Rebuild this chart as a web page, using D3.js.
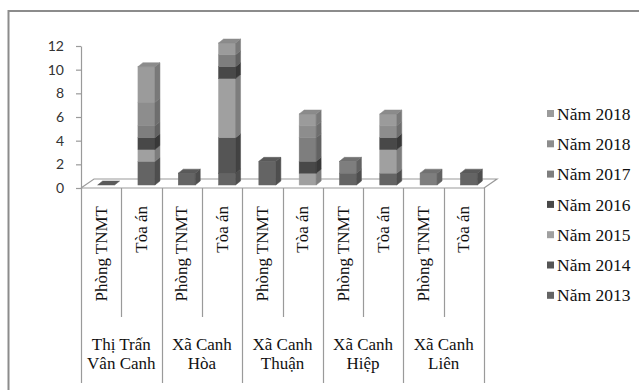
<!DOCTYPE html>
<html>
<head>
<meta charset="utf-8">
<script src="https://cdn.jsdelivr.net/npm/d3@7"></script>
<style>
  html, body { margin: 0; padding: 0; background: #fff; }
  svg { display: block; }
</style>
</head>
<body>
<svg id="chart" width="639" height="390"></svg>
<script>
// Communes (two-line labels) and the two agencies counted in each
const groupLines = [["Thị Trấn", "Vân Canh"], ["Xã Canh", "Hòa"], ["Xã Canh", "Thuận"], ["Xã Canh", "Hiệp"], ["Xã Canh", "Liên"]];
const agencies = ["Phòng TNMT", "Tòa án"];

// Stack order, bottom to top
const seriesNames = ["Năm 2013", "Năm 2014", "Năm 2015", "Năm 2016", "Năm 2017", "Năm 2018", "Năm 2018"];
const seriesColors = ["#646464", "#555555", "#a0a0a0", "#484848", "#7e7e7e", "#8d8d8d", "#9b9b9b"];

// One value per bar: [Thị Trấn TNMT, Thị Trấn Tòa án, Hòa TNMT, Hòa Tòa án, ...]
const v2013  = [0, 2, 1, 1, 2, 0, 1, 1, 0, 1];
const v2014  = [0, 0, 0, 3, 0, 0, 0, 0, 0, 0];
const v2015  = [0, 1, 0, 5, 0, 1, 0, 2, 0, 0];
const v2016  = [0, 1, 0, 1, 0, 1, 0, 1, 0, 0];
const v2017  = [0, 1, 0, 1, 0, 2, 1, 0, 1, 0];
const v2018b = [0, 2, 0, 0, 0, 1, 0, 1, 0, 0];
const v2018a = [0, 3, 0, 1, 0, 1, 0, 1, 0, 0];
const seriesValues = [v2013, v2014, v2015, v2016, v2017, v2018b, v2018a];

const yTicks = [0, 2, 4, 6, 8, 10, 12];

const svg = d3.select("#chart");

// outer frame
svg.append("rect")
  .attr("x", 8.5).attr("y", 11).attr("width", 700).attr("height", 420)
  .attr("fill", "none").attr("stroke", "#8c8c8c").attr("stroke-width", 2);

const barKeys = [];
groupLines.forEach((g, gi) => agencies.forEach((a, ai) => barKeys.push(gi * 2 + ai)));

const x = d3.scaleBand().domain(barKeys).range([81, 484]).padding(0);
const y = d3.scaleLinear().domain([0, 12]).range([188, 46]);

// 3D geometry
const floorDX = 13, floorDY = -9;
const depthDX = 5, depthDY = -4;
const barW = 17, barShiftX = 5, barShiftY = -3;

const axisColor = "#9a9a9a";

// floor parallelogram
const x0 = x.range()[0], x1 = x.range()[1], y0 = y(0);
svg.append("path")
  .attr("d", `M${x0},${y0} L${x0 + floorDX},${y0 + floorDY} L${x1 + floorDX},${y0 + floorDY} L${x1},${y0}`)
  .attr("fill", "none").attr("stroke", axisColor).attr("stroke-width", 1.2);

// y axis
const yAxis = svg.append("g")
  .attr("transform", `translate(${x0},0)`)
  .call(d3.axisLeft(y).tickValues(yTicks).tickSize(5).tickPadding(12).tickSizeOuter(0));
yAxis.select(".domain").attr("stroke", axisColor).attr("stroke-width", 1.2);
yAxis.selectAll(".tick line").attr("stroke", axisColor).attr("stroke-width", 1.2);
yAxis.selectAll(".tick text")
  .attr("font-family", "Lato, 'Open Sans', sans-serif")
  .attr("font-size", 14).attr("fill", "#333");

// x axis baseline
svg.append("line")
  .attr("x1", x0).attr("x2", x1).attr("y1", y0).attr("y2", y0)
  .attr("stroke", axisColor).attr("stroke-width", 1.2);

// category separators: short ones between agencies, long ones between communes
barKeys.forEach(k => {
  const xl = Math.round(x(k)) + 0.5;
  const long = k % 2 === 0;
  svg.append("line")
    .attr("x1", xl).attr("x2", xl).attr("y1", y0).attr("y2", long ? 383 : 317)
    .attr("stroke", axisColor).attr("stroke-width", 1.2);
});
svg.append("line")
  .attr("x1", Math.round(x1) + 0.5).attr("x2", Math.round(x1) + 0.5).attr("y1", y0).attr("y2", 383)
  .attr("stroke", axisColor).attr("stroke-width", 1.2);

// agency labels (rotated)
barKeys.forEach(k => {
  const cx = x(k) + x.bandwidth() / 2;
  svg.append("text")
    .attr("transform", `translate(${cx},206) rotate(-90)`)
    .attr("text-anchor", "end").attr("dy", "0.33em")
    .attr("font-family", "'Liberation Serif', 'Times New Roman', serif")
    .attr("font-size", 17).attr("fill", "#111")
    .text(agencies[k % 2]);
});

// commune labels
groupLines.forEach((lines, gi) => {
  const cx = x(gi * 2) + x.bandwidth();
  lines.forEach((ln, li) => {
    svg.append("text")
      .attr("x", cx).attr("y", 349.5 + li * 19.5)
      .attr("text-anchor", "middle")
      .attr("font-family", "'Liberation Serif', 'Times New Roman', serif")
      .attr("font-size", 17).attr("fill", "#111")
      .text(ln);
  });
});

// stacked 3D columns
const shade = (c, k) => d3.color(c).darker(k).formatHex();
const bars = svg.append("g");
barKeys.forEach(k => {
  const left = x(k) + x.bandwidth() / 2 + barShiftX - barW / 2;
  let acc = 0;
  let topColor = seriesColors[0];
  seriesValues.forEach((vals, si) => {
    const v = vals[k];
    if (!v) return;
    const yb = y(acc) + barShiftY, yt = y(acc + v) + barShiftY;
    const col = seriesColors[si];
    const side = shade(col, 0.7);
    bars.append("rect")
      .attr("x", left).attr("y", yt).attr("width", barW).attr("height", yb - yt)
      .attr("fill", col).attr("stroke", col).attr("stroke-width", 0.5);
    bars.append("path")
      .attr("d", `M${left + barW},${yb} L${left + barW + depthDX},${yb + depthDY} L${left + barW + depthDX},${yt + depthDY} L${left + barW},${yt} Z`)
      .attr("fill", side).attr("stroke", side).attr("stroke-width", 0.5);
    acc += v;
    topColor = col;
  });
  const yt = y(acc) + barShiftY;
  const topFill = shade(topColor, 0.3);
  bars.append("path")
    .attr("d", `M${left},${yt} L${left + depthDX},${yt + depthDY} L${left + barW + depthDX},${yt + depthDY} L${left + barW},${yt} Z`)
    .attr("fill", topFill).attr("stroke", topFill).attr("stroke-width", 0.5);
});

// legend, top entry first
const legend = svg.append("g");
const order = d3.range(seriesNames.length).reverse();
order.forEach((si, i) => {
  const cy = 113.5 + i * 30.3;
  legend.append("rect")
    .attr("x", 547).attr("y", cy - 3.5).attr("width", 7).attr("height", 7)
    .attr("fill", seriesColors[si]);
  legend.append("text")
    .attr("x", 557).attr("y", cy).attr("dy", "0.35em")
    .attr("font-family", "'Liberation Serif', 'Times New Roman', serif")
    .attr("font-size", 17.5).attr("fill", "#111")
    .text(seriesNames[si]);
});
</script>
</body>
</html>
